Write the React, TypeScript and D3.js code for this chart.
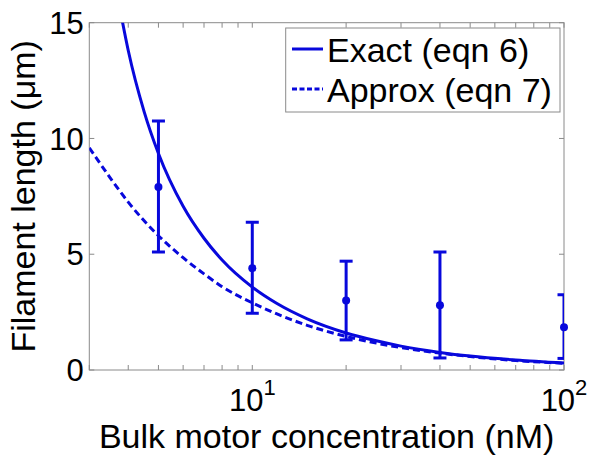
import React from "react";
import * as d3 from "d3";

const width = 600;
const height = 464;
const margin = { top: 22.7, right: 36, bottom: 94, left: 89.3 };

// measured data (error bars)
const concentrations = [5, 10, 20, 40, 100];
const meanLength = [7.9, 4.4, 3.0, 2.8, 1.85];
const upperLength = [10.75, 6.38, 4.7, 5.1, 3.25];
const lowerLength = [5.1, 2.45, 1.3, 0.52, 0.5];

// exact model curve (eqn 6)
const exactX = [3.75, 4, 4.5, 5, 6, 7, 8, 10, 12, 15, 20, 25, 30, 40, 50, 70, 100];
const exactY = [15.7, 13.8, 11.15, 9.35, 7.07, 5.69, 4.75, 3.58, 2.87, 2.21, 1.6, 1.26, 1.03, 0.76, 0.6, 0.43, 0.3];

// approximate model curve (eqn 7)
const approxX = [3, 3.5, 4, 5, 6, 7, 8, 10, 12, 15, 20, 25, 30, 40, 50, 70, 100];
const approxY = [9.6, 8.3, 7.25, 5.8, 4.85, 4.15, 3.6, 2.9, 2.42, 1.93, 1.45, 1.16, 0.97, 0.73, 0.58, 0.41, 0.29];

const xMajor = [10, 100];
const xMajorExp = ["1", "2"];
const xMinor = [3, 4, 5, 6, 7, 8, 9, 20, 30, 40, 50, 60, 70, 80, 90];
const yTicks = [0, 5, 10, 15];

const legendLabels = ["Exact (eqn 6)", "Approx (eqn 7)"];

const blue = "#0808dc";
const axisColor = "#8a8a8a";
const font = "'Liberation Sans', Arial, sans-serif";

export default function App() {
  const x = d3.scaleLog().domain([3, 100]).range([margin.left, width - margin.right]);
  const y = d3.scaleLinear().domain([0, 15]).range([height - margin.bottom, margin.top]);
  const x0 = x.range()[0], x1 = x.range()[1];
  const y0 = y.range()[0], y1 = y.range()[1];

  const line = d3.line<[number, number]>()
    .x(d => x(d[0]))
    .y(d => y(d[1]))
    .curve(d3.curveMonotoneX);

  const exactPath = line(exactX.map((v, i) => [v, exactY[i]]));
  const approxPath = line(approxX.map((v, i) => [v, approxY[i]]));
  const tl = 5;
  const capW = 6.5;

  return (
    <svg width={width} height={height} style={{ position: "absolute", left: 0, top: 0 }} fontFamily={font}>
      <defs>
        <clipPath id="plot">
          <rect x={x0} y={y1} width={x1 - x0} height={y0 - y1} />
        </clipPath>
      </defs>
      <rect x={0} y={0} width={width} height={height} fill="#fff" />

      {/* axes box and ticks */}
      <rect x={x0} y={y1} width={x1 - x0} height={y0 - y1} fill="none" stroke={axisColor} strokeWidth={1} />
      {[...xMajor, ...xMinor].map((t, i) => (
        <g key={"xt" + i} stroke={axisColor} strokeWidth={1}>
          <line x1={x(t)} x2={x(t)} y1={y0} y2={y0 - tl} />
          <line x1={x(t)} x2={x(t)} y1={y1} y2={y1 + tl} />
        </g>
      ))}
      {yTicks.map((t, i) => (
        <g key={"yt" + i} stroke={axisColor} strokeWidth={1}>
          <line x1={x0} x2={x0 + tl} y1={y(t)} y2={y(t)} />
          <line x1={x1} x2={x1 - tl} y1={y(t)} y2={y(t)} />
        </g>
      ))}

      {/* tick labels */}
      {yTicks.map((t, i) => (
        <text key={"yl" + i} x={x0 - 5.5} y={y(t)} dy="0.36em" textAnchor="end" fontSize={31} fill="#000">
          {t}
        </text>
      ))}
      {xMajor.map((t, i) => (
        <text key={"xl" + i} x={x(t)} y={410.5} textAnchor="middle" fontSize={31} fill="#000">
          10<tspan dy={-16} fontSize={22}>{xMajorExp[i]}</tspan>
        </text>
      ))}

      {/* axis labels */}
      <text x={(x0 + x1) / 2} y={448} textAnchor="middle" fontSize={34} fill="#000">
        Bulk motor concentration (nM)
      </text>
      <text transform={`translate(35,${(y0 + y1) / 2}) rotate(-90)`} textAnchor="middle" fontSize={34} fill="#000">
        Filament length (μm)
      </text>

      {/* curves */}
      <g clipPath="url(#plot)" fill="none" stroke={blue} strokeWidth={3}>
        <path d={exactPath ?? ""} />
        <path d={approxPath ?? ""} strokeDasharray="7,4" />
        {concentrations.map((c, i) => (
          <g key={"eb" + i}>
            <line x1={x(c)} x2={x(c)} y1={y(lowerLength[i])} y2={y(upperLength[i])} />
            <line x1={x(c) - capW} x2={x(c) + capW} y1={y(lowerLength[i])} y2={y(lowerLength[i])} />
            <line x1={x(c) - capW} x2={x(c) + capW} y1={y(upperLength[i])} y2={y(upperLength[i])} />
          </g>
        ))}
      </g>
      {concentrations.map((c, i) => (
        <circle key={"m" + i} cx={x(c)} cy={y(meanLength[i])} r={4} fill={blue} />
      ))}

      {/* legend */}
      <rect x={285.7} y={28} width={274.3} height={84} fill="#fff" stroke={axisColor} strokeWidth={1} />
      <line x1={292} x2={323} y1={49} y2={49} stroke={blue} strokeWidth={3} />
      <line x1={292} x2={323} y1={89} y2={89} stroke={blue} strokeWidth={3} strokeDasharray="5,2.5" />
      <text x={327} y={62} fontSize={34} fill="#000">{legendLabels[0]}</text>
      <text x={327} y={102} fontSize={34} fill="#000">{legendLabels[1]}</text>
    </svg>
  );
}
